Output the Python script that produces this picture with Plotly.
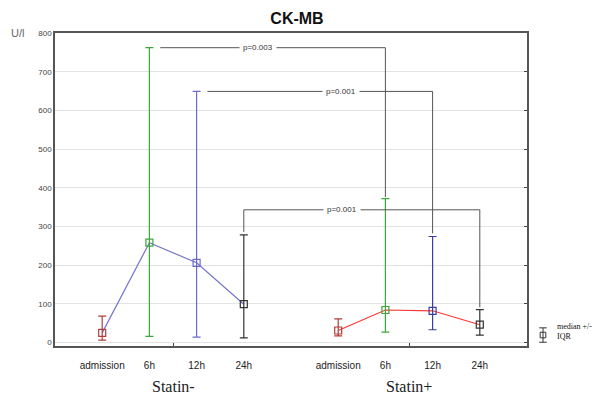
import plotly.graph_objects as go

# ---------------- data ----------------
groups = ["Statin-", "Statin+"]
times = ["admission", "6h", "12h", "24h"]

median_minus = [25, 258, 206, 99]
q1_minus = [6, 16, 14, 12]
q3_minus = [68, 762, 649, 278]

median_plus = [31, 84, 82, 46]
q1_plus = [17, 27, 33, 19]
q3_plus = [61, 372, 274, 85]

p_labels = ["p=0.003", "p=0.001", "p=0.001"]
y_ticks = [0, 100, 200, 300, 400, 500, 600, 700, 800]

time_colors = [["#b03c3c", "#3ca83c", "#6b6bcc", "#333333"],
               ["#b03c3c", "#3ca83c", "#3c3ca8", "#333333"]]
line_colors = ["#7575cc", "#ff3535"]

# ---------------- positions ----------------
group_gap = 5
pos = [[g * group_gap + t for t in range(len(times))] for g in range(len(groups))]
medians = [median_minus, median_plus]
q1s = [q1_minus, q1_plus]
q3s = [q3_minus, q3_plus]

fig = go.Figure()

for g in range(2):
    fig.add_trace(go.Scatter(
        x=pos[g], y=medians[g], mode="lines",
        line=dict(color=line_colors[g], width=1.2),
        showlegend=False, hoverinfo="skip"))

for g in range(2):
    for t in range(len(times)):
        c = time_colors[g][t]
        fig.add_trace(go.Scatter(
            x=[pos[g][t]], y=[medians[g][t]], mode="markers",
            marker=dict(symbol="square-open", size=7, color=c,
                        line=dict(width=1.2, color=c)),
            error_y=dict(type="data", array=[q3s[g][t] - medians[g][t]],
                         arrayminus=[medians[g][t] - q1s[g][t]], visible=True,
                         color=c, thickness=1.2, width=4),
            showlegend=False))

fig.add_trace(go.Scatter(x=[pos[0][0]], y=[0], yaxis="y2", mode="markers",
                         marker=dict(opacity=0), showlegend=False, hoverinfo="skip"))

# ---------------- brackets ----------------
br = dict(type="line", xref="x", yref="y", line=dict(color="#555555", width=1))
shapes = []
y1 = q3_minus[1]
shapes.append(dict(br, x0=pos[0][1] + 0.23, x1=pos[1][1], y0=y1, y1=y1))
shapes.append(dict(br, x0=pos[1][1], x1=pos[1][1], y0=y1, y1=q3_plus[1] + 4))
y2 = q3_minus[2]
shapes.append(dict(br, x0=pos[0][2] + 0.23, x1=pos[1][2], y0=y2, y1=y2))
shapes.append(dict(br, x0=pos[1][2], x1=pos[1][2], y0=y2, y1=q3_plus[2] + 8))
y3 = 343
shapes.append(dict(br, x0=pos[0][3], x1=pos[0][3], y0=q3_minus[3] + 8, y1=y3))
shapes.append(dict(br, x0=pos[0][3], x1=pos[1][3], y0=y3, y1=y3))
shapes.append(dict(br, x0=pos[1][3], x1=pos[1][3], y0=y3, y1=q3_plus[3] + 6))

label_x = [3.3, 5.06, 5.09]
label_y = [y1, y2, y3]
annotations = []
for i in range(3):
    annotations.append(dict(x=label_x[i], y=label_y[i], xref="x", yref="y",
                            text=p_labels[i], showarrow=False,
                            font=dict(family="Liberation Sans, Arial", size=8, color="#333333"),
                            bgcolor="white", borderpad=3))

for g in range(2):
    annotations.append(dict(x=(pos[g][0] + pos[g][-1]) / 2, y=-0.13, xref="x", yref="paper",
                            text=groups[g], showarrow=False, yanchor="middle",
                            font=dict(family="Liberation Serif, Times New Roman", size=16, color="#222222")))

annotations.append(dict(x=(17 - 55) / 472, y=1.0, xref="paper", yref="paper", text="U/l", showarrow=False,
                        xanchor="center", yanchor="middle",
                        font=dict(family="Liberation Sans, Arial", size=11, color="#666666")))

annotations.append(dict(x=(555 - 55) / 472, y=0.045, xref="paper", yref="paper", text="median +/-<br>IQR",
                        showarrow=False, xanchor="left", yanchor="middle", align="left",
                        font=dict(family="Liberation Serif, Times New Roman", size=8, color="#111111")))
ic = dict(xref="paper", yref="paper", line=dict(color="#333333", width=1))
lx = (543 - 55) / 472
shapes.append(dict(ic, type="line", x0=lx, x1=lx, y0=0.012, y1=0.058))
shapes.append(dict(ic, type="line", x0=lx - 0.008, x1=lx + 0.008, y0=0.058, y1=0.058))
shapes.append(dict(ic, type="line", x0=lx - 0.008, x1=lx + 0.008, y0=0.012, y1=0.012))
shapes.append(dict(ic, type="rect", x0=lx - 0.006, x1=lx + 0.006, y0=0.026, y1=0.044))

fig.update_layout(
    width=594, height=394,
    margin=dict(l=55, r=67, t=33, b=48),
    paper_bgcolor="white", plot_bgcolor="white",
    title=dict(text="<b>CK-MB</b>", x=0.5, xanchor="center", y=1 - 18 / 394, yanchor="middle",
               font=dict(family="Liberation Sans, Arial", size=16, color="#111111")),
    xaxis=dict(range=[-1, 9],
               tickvals=[p for row in pos for p in row],
               ticktext=times + times,
               ticks="", showgrid=False, zeroline=False,
               showline=True, linecolor="#555555", linewidth=1.6, mirror=True,
               ticklabelstandoff=9,
               tickfont=dict(family="Liberation Sans, Arial", size=10, color="#222222"),
               minor=dict(tickvals=[1.5, 6.5], ticks="inside", ticklen=3, tickcolor="#444444",
                          showgrid=False)),
    yaxis=dict(range=[-9, 800], tickvals=y_ticks,
               showgrid=True, gridcolor="#e3e3e3", gridwidth=1, zeroline=False,
               showline=True, linecolor="#555555", linewidth=1.6, mirror=True, ticks="",
               tickfont=dict(family="Liberation Sans, Arial", size=8, color="#444444")),
    yaxis2=dict(range=[-9, 800], tickvals=y_ticks, overlaying="y", side="right",
                showticklabels=False, ticks="inside", ticklen=3, tickcolor="#444444",
                showgrid=False, zeroline=False, showline=False),
    shapes=shapes,
    annotations=annotations,
    showlegend=False,
)

fig.write_html("out.html", config={"displayModeBar": False},
               post_script="document.body.style.margin='0';document.body.style.overflow='hidden';")
